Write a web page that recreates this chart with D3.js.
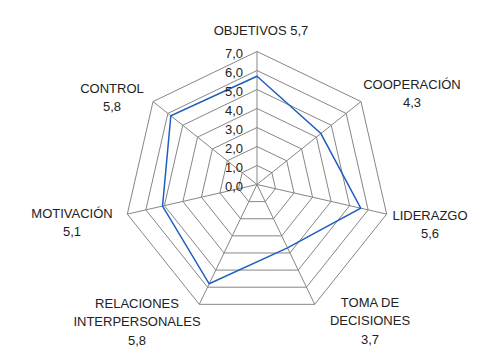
<!DOCTYPE html>
<html>
<head>
<meta charset="utf-8">
<script src="https://cdn.jsdelivr.net/npm/d3@7"></script>
<style>
    body { margin: 0; background: #fff; }
    svg { display: block; font-family: "Liberation Sans", Arial, sans-serif; }
</style>
</head>
<body>
<svg id="chart" width="496" height="360"></svg>
<script>
// chart data
const categories = ["OBJETIVOS", "COOPERACIÓN", "LIDERAZGO", "TOMA DE DECISIONES", "RELACIONES INTERPERSONALES", "MOTIVACIÓN", "CONTROL"]
const values = [5.7, 4.3, 5.6, 3.7, 5.8, 5.1, 5.8]
const tickValues = [0, 1, 2, 3, 4, 5, 6, 7]
// label lines as shown in the chart
const labelLines = [
    ["OBJETIVOS 5,7"],
    ["COOPERACIÓN", "4,3"],
    ["LIDERAZGO", "5,6"],
    ["TOMA DE", "DECISIONES", "3,7"],
    ["RELACIONES", "INTERPERSONALES", "5,8"],
    ["MOTIVACIÓN", "5,1"],
    ["CONTROL", "5,8"]
]
// label anchor points (centre x, first baseline y)
const labelAnchors = [[261, 35], [412, 89], [430, 220], [370, 307], [137, 308], [72, 218], [112, 93]]

const cx = 257, cy = 184.5, R = 133
const GRID = "#868686", LINE = "#1f5fbf", TEXT = "#222"

let svg = d3.select("#chart"),
    r = d3.scaleLinear().domain([0, 7]).range([0, R]),
    angle = d3.scaleLinear().domain([0, categories.length]).range([0, 2 * Math.PI]),
    fmt = v => d3.format(".1f")(v).replace(".", ","),
    g = svg.append("g").attr("transform", `translate(${cx}, ${cy})`)

const point = (i, v) => [r(v) * Math.sin(angle(i)), -r(v) * Math.cos(angle(i))]

// level polygons
g.append("g")
    .selectAll("polygon")
    .data(tickValues.slice(1))
    .join("polygon")
    .attr("points", level => categories.map((c, i) => point(i, level).join(",")).join(" "))
    .attr("fill", "none")
    .attr("stroke", GRID)
    .attr("stroke-width", 1)

// spokes
g.append("g")
    .selectAll("line")
    .data(categories)
    .join("line")
    .attr("x1", 0)
    .attr("y1", 0)
    .attr("x2", (c, i) => point(i, 7)[0])
    .attr("y2", (c, i) => point(i, 7)[1])
    .attr("stroke", GRID)
    .attr("stroke-width", 1)

// series line
g.append("path")
    .datum(values)
    .attr("d", d3.line().x((v, i) => point(i, v)[0]).y((v, i) => point(i, v)[1]).curve(d3.curveLinearClosed))
    .attr("fill", "none")
    .attr("stroke", LINE)
    .attr("stroke-width", 1.5)

// tick labels
g.append("g")
    .selectAll("text")
    .data(tickValues)
    .join("text")
    .attr("x", -14)
    .attr("y", v => -r(v) + 6)
    .attr("text-anchor", "end")
    .style("font-size", "13px")
    .style("fill", TEXT)
    .text(fmt)

// category labels
svg.append("g")
    .selectAll("text")
    .data(labelLines)
    .join("text")
    .attr("text-anchor", "middle")
    .style("font-size", "13px")
    .style("fill", TEXT)
    .each(function(lines, i) {
        d3.select(this)
            .selectAll("tspan")
            .data(lines)
            .join("tspan")
            .attr("x", labelAnchors[i][0])
            .attr("y", (l, j) => labelAnchors[i][1] + j * 18.3)
            .text(l => l)
    })
</script>
</body>
</html>
